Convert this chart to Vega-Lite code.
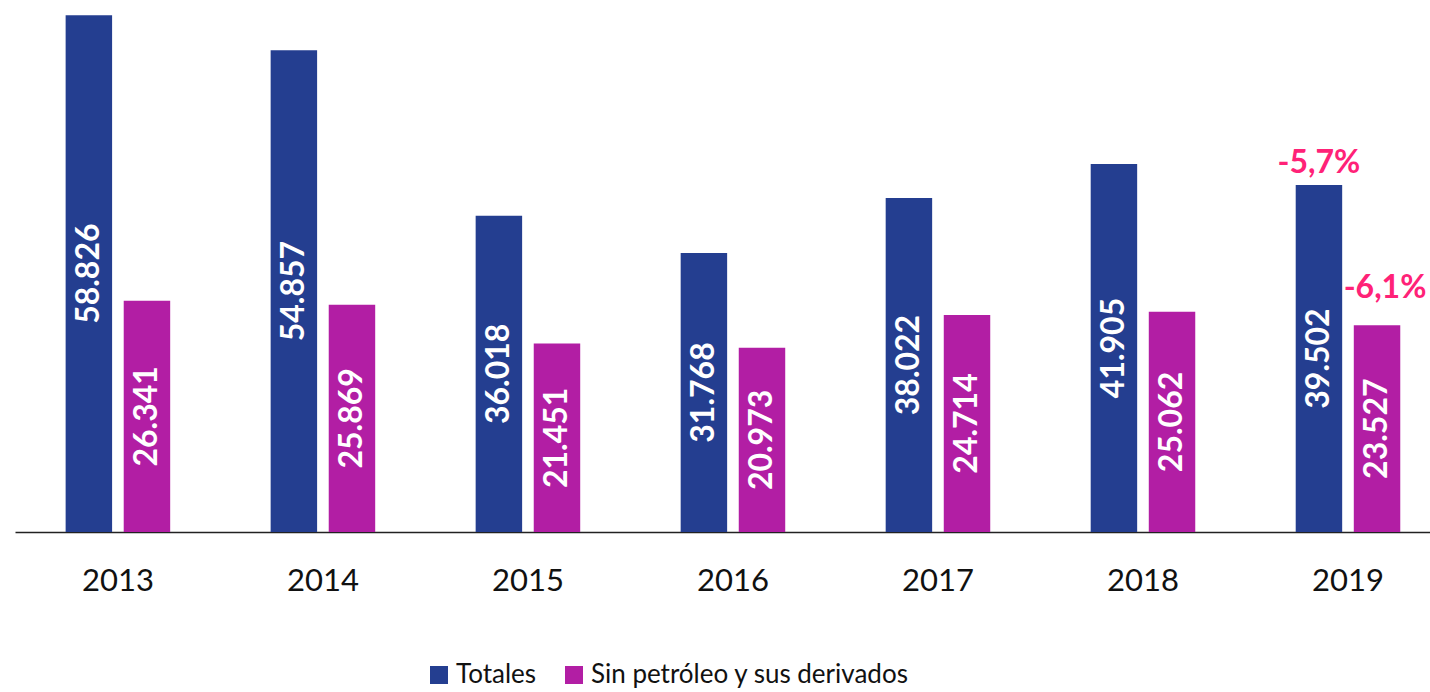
{
  "$schema": "https://vega.github.io/schema/vega-lite/v6.json",
  "autosize": "none",
  "width": 1415,
  "height": 527,
  "padding": {"left": 15, "top": 5, "right": 0, "bottom": 160},
  "background": "white",
  "config": {
    "view": {"stroke": null},
    "font": "Lato",
    "locale": {"number": {"decimal": ",", "thousands": ".", "grouping": [3], "currency": ["", "€"]}}
  },
  "datasets": {
    "main": [
      {"year": "2013", "series": "Totales", "value": 58826},
      {"year": "2013", "series": "Sin petróleo y sus derivados", "value": 26341},
      {"year": "2014", "series": "Totales", "value": 54857},
      {"year": "2014", "series": "Sin petróleo y sus derivados", "value": 25869},
      {"year": "2015", "series": "Totales", "value": 36018},
      {"year": "2015", "series": "Sin petróleo y sus derivados", "value": 21451},
      {"year": "2016", "series": "Totales", "value": 31768},
      {"year": "2016", "series": "Sin petróleo y sus derivados", "value": 20973},
      {"year": "2017", "series": "Totales", "value": 38022},
      {"year": "2017", "series": "Sin petróleo y sus derivados", "value": 24714},
      {"year": "2018", "series": "Totales", "value": 41905},
      {"year": "2018", "series": "Sin petróleo y sus derivados", "value": 25062},
      {"year": "2019", "series": "Totales", "value": 39502},
      {"year": "2019", "series": "Sin petróleo y sus derivados", "value": 23527}
    ]
  },
  "encoding": {
    "x": {
      "field": "year", "type": "nominal",
      "scale": {"paddingInner": 0.49, "paddingOuter": 0.196, "align": 0.63},
      "axis": {
        "title": null, "ticks": false, "domainColor": "#222222", "domainWidth": 1.5,
        "labelFont": "Lato", "labelFontSize": 31, "labelColor": "#111111",
        "labelPadding": 34, "labelAngle": 0
      }
    },
    "xOffset": {
      "field": "series", "type": "nominal",
      "scale": {"domain": ["Totales", "Sin petróleo y sus derivados"], "paddingInner": 0.2, "paddingOuter": 0}
    }
  },
  "layer": [
    {
      "data": {"name": "main"},
      "mark": {"type": "bar"},
      "encoding": {
        "y": {"field": "value", "type": "quantitative", "scale": {"domain": [0, 60000]}, "axis": null},
        "color": {
          "field": "series", "type": "nominal",
          "scale": {"domain": ["Totales", "Sin petróleo y sus derivados"], "range": ["#243E90", "#B21EA4"]},
          "legend": {
            "title": null, "orient": "none", "direction": "horizontal",
            "legendX": 411, "legendY": 657,
            "symbolType": "square", "symbolSize": 324, "symbolStrokeWidth": 0,
            "labelFont": "Lato", "labelFontSize": 26, "labelColor": "#111111",
            "labelLimit": 600, "columnPadding": 24, "labelOffset": 4
          }
        }
      }
    },
    {
      "data": {"name": "main"},
      "mark": {"type": "text", "angle": 270, "align": "center", "baseline": "middle", "font": "Lato", "fontWeight": "bold", "fontSize": 32, "color": "white"},
      "encoding": {
        "y": {"field": "value", "type": "quantitative", "scale": {"domain": [0, 120000]}, "axis": null},
        "text": {"field": "value", "type": "quantitative", "format": ",d"}
      }
    },
    {
      "data": {"values": [{"year": "2019", "series": "Totales", "value": 39502, "label": "-5,7%"}]},
      "mark": {"type": "text", "align": "center", "baseline": "alphabetic", "dy": -12, "font": "Lato", "fontWeight": "bold", "fontSize": 32, "color": "#FF2277"},
      "encoding": {
        "y": {"field": "value", "type": "quantitative", "scale": {"domain": [0, 60000]}, "axis": null},
        "text": {"field": "label", "type": "nominal"}
      }
    },
    {
      "data": {"values": [{"year": "2019", "series": "Sin petróleo y sus derivados", "value": 23527, "label": "-6,1%"}]},
      "mark": {"type": "text", "align": "center", "baseline": "alphabetic", "dy": -27, "dx": 8, "font": "Lato", "fontWeight": "bold", "fontSize": 32, "color": "#FF2277"},
      "encoding": {
        "y": {"field": "value", "type": "quantitative", "scale": {"domain": [0, 60000]}, "axis": null},
        "text": {"field": "label", "type": "nominal"}
      }
    }
  ],
  "resolve": {"scale": {"y": "independent"}}
}
